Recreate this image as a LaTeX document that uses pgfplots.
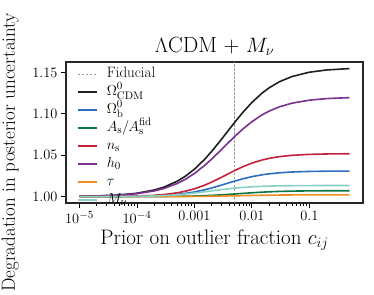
\documentclass[border=0pt]{standalone}
\usepackage{pgfplots}
\usepackage{pgfplotstable}
\pgfplotsset{compat=1.18}
\definecolor{cblack}{HTML}{1F1F1F}
\definecolor{cblue}{HTML}{2B6EBB}
\definecolor{cgreen}{HTML}{0B7544}
\definecolor{cred}{HTML}{C4213D}
\definecolor{cpurple}{HTML}{7B2F8E}
\definecolor{corange}{HTML}{EE8E22}
\definecolor{ccyan}{HTML}{84D3C6}
\pgfplotstableread{
x        ocdm     ob       as       ns       h0       tau      mnu
1e-5     1.00042  1.00003  1.000003 1.00005  1.00036  1.000001 1.00003
2e-5     1.00084  1.00006  1.00001  1.00011  1.00073  1.000002 1.00006
5e-5     1.00208  1.00019  1.00002  1.00032  1.00180  1.000007 1.00017
1e-4     1.00411  1.00043  1.00005  1.00072  1.00354  1.00002  1.00038
2e-4     1.00800  1.00097  1.00012  1.00162  1.00689  1.00004  1.00085
3e-4     1.01170  1.00154  1.00019  1.00259  1.01004  1.00006  1.00133
5e-4     1.01857  1.00274  1.00035  1.00459  1.01586  1.00011  1.00226
7e-4     1.02482  1.00393  1.00051  1.00658  1.02109  1.00016  1.00313
1e-3     1.03319  1.00564  1.00075  1.00946  1.02802  1.00023  1.00427
1.5e-3   1.04500  1.00824  1.00115  1.01381  1.03766  1.00035  1.00580
2e-3     1.05474  1.01048  1.00152  1.01759  1.04547  1.00046  1.00696
3e-3     1.06985  1.01407  1.00218  1.02360  1.05738  1.00067  1.00856
5e-3     1.08966  1.01877  1.00321  1.03148  1.07259  1.00098  1.01028
7e-3     1.10206  1.02160  1.00393  1.03623  1.08189  1.00120  1.01116
1e-2     1.11387  1.02415  1.00467  1.04051  1.09060  1.00143  1.01188
1.5e-2   1.12513  1.02640  1.00540  1.04428  1.09877  1.00165  1.01246
2e-2     1.13165  1.02759  1.00583  1.04628  1.10343  1.00178  1.01274
3e-2     1.13887  1.02881  1.00629  1.04833  1.10856  1.00192  1.01302
5e-2     1.14525  1.02978  1.00668  1.04995  1.11304  1.00204  1.01324
0.1      1.15043  1.03046  1.00696  1.05109  1.11665  1.00213  1.01339
0.2      1.15317  1.03076  1.00709  1.05160  1.11854  1.00217  1.01345
0.5      1.15485  1.03092  1.00716  1.05187  1.11971  1.00219  1.01348
}\datatable
\begin{document}
\begin{tikzpicture}
\useasboundingbox (-66pt,-91pt) rectangle (308pt,203pt);
\begin{axis}[
  at={(0,0)}, anchor=south west,
  scale only axis, width=297pt, height=141pt,
  xmode=log, xmin=5.82e-6, xmax=0.859,
  ymin=0.9923, ymax=1.1628,
  xtick={1e-5,1e-4,1e-3,1e-2,1e-1},
  xticklabels={$10^{-5}$,$10^{-4}$,$0.001$,$0.01$,$0.1$},
  ytick={1.00,1.05,1.10,1.15},
  yticklabel style={/pgf/number format/.cd,fixed,fixed zerofill,precision=2},
  tick align=outside, xtick pos=bottom, ytick pos=left,
  major tick length=5pt, minor tick length=3pt,
  every tick/.style={line width=0.9pt, color=black},
  axis line style={line width=1.2pt, color=black!85},
  ticklabel style={font=\fontsize{15}{18}\selectfont},
  title={$\Lambda$CDM + $M_\nu$},
  title style={font=\fontsize{22}{26}\selectfont, at={(axis description cs:0.5,1.07)}, anchor=center},
  xlabel={Prior on outlier fraction $c_{ij}$},
  xlabel style={font=\fontsize{21}{25}\selectfont, at={(axis description cs:0.5,-0.2624)}, anchor=center},
  ylabel={Degradation in posterior uncertainty},
  ylabel style={font=\fontsize{19}{22}\selectfont, at={(axis description cs:-0.188,0.36)}, anchor=center},
  legend style={draw=none, fill=none, at={(rel axis cs:0,1)}, anchor=north west,
    xshift=8pt, yshift=-1pt, font=\fontsize{15}{18}\selectfont,
    nodes={inner sep=1pt, text height=11pt, text depth=5pt}},
  legend cell align=left,
  legend image code/.code={\draw[#1] (0pt,0pt) -- (19pt,0pt); \path (27pt,0pt);},
  every axis plot/.append style={line width=1.6pt},
]
\addplot[gray!80, line width=0.7pt, dash pattern=on 2.5pt off 1.5pt] coordinates {(0.005,0.9923) (0.005,1.1628)};
\addlegendentry{Fiducial}
\addplot[cblack] table[x=x, y=ocdm] {\datatable};
\addlegendentry{$\Omega^0_{\rm CDM}$}
\addplot[cblue] table[x=x, y=ob] {\datatable};
\addlegendentry{$\Omega^0_{\rm b}$}
\addplot[cgreen] table[x=x, y=as] {\datatable};
\addlegendentry{$A_{\rm s}/A_{\rm s}^{\rm fid}$}
\addplot[cred] table[x=x, y=ns] {\datatable};
\addlegendentry{$n_{\rm s}$}
\addplot[cpurple] table[x=x, y=h0] {\datatable};
\addlegendentry{$h_0$}
\addplot[corange] table[x=x, y=tau] {\datatable};
\addlegendentry{$\tau$}
\addplot[ccyan] table[x=x, y=mnu] {\datatable};
\addlegendentry{$M_\nu$}
\end{axis}
\end{tikzpicture}
\end{document}
